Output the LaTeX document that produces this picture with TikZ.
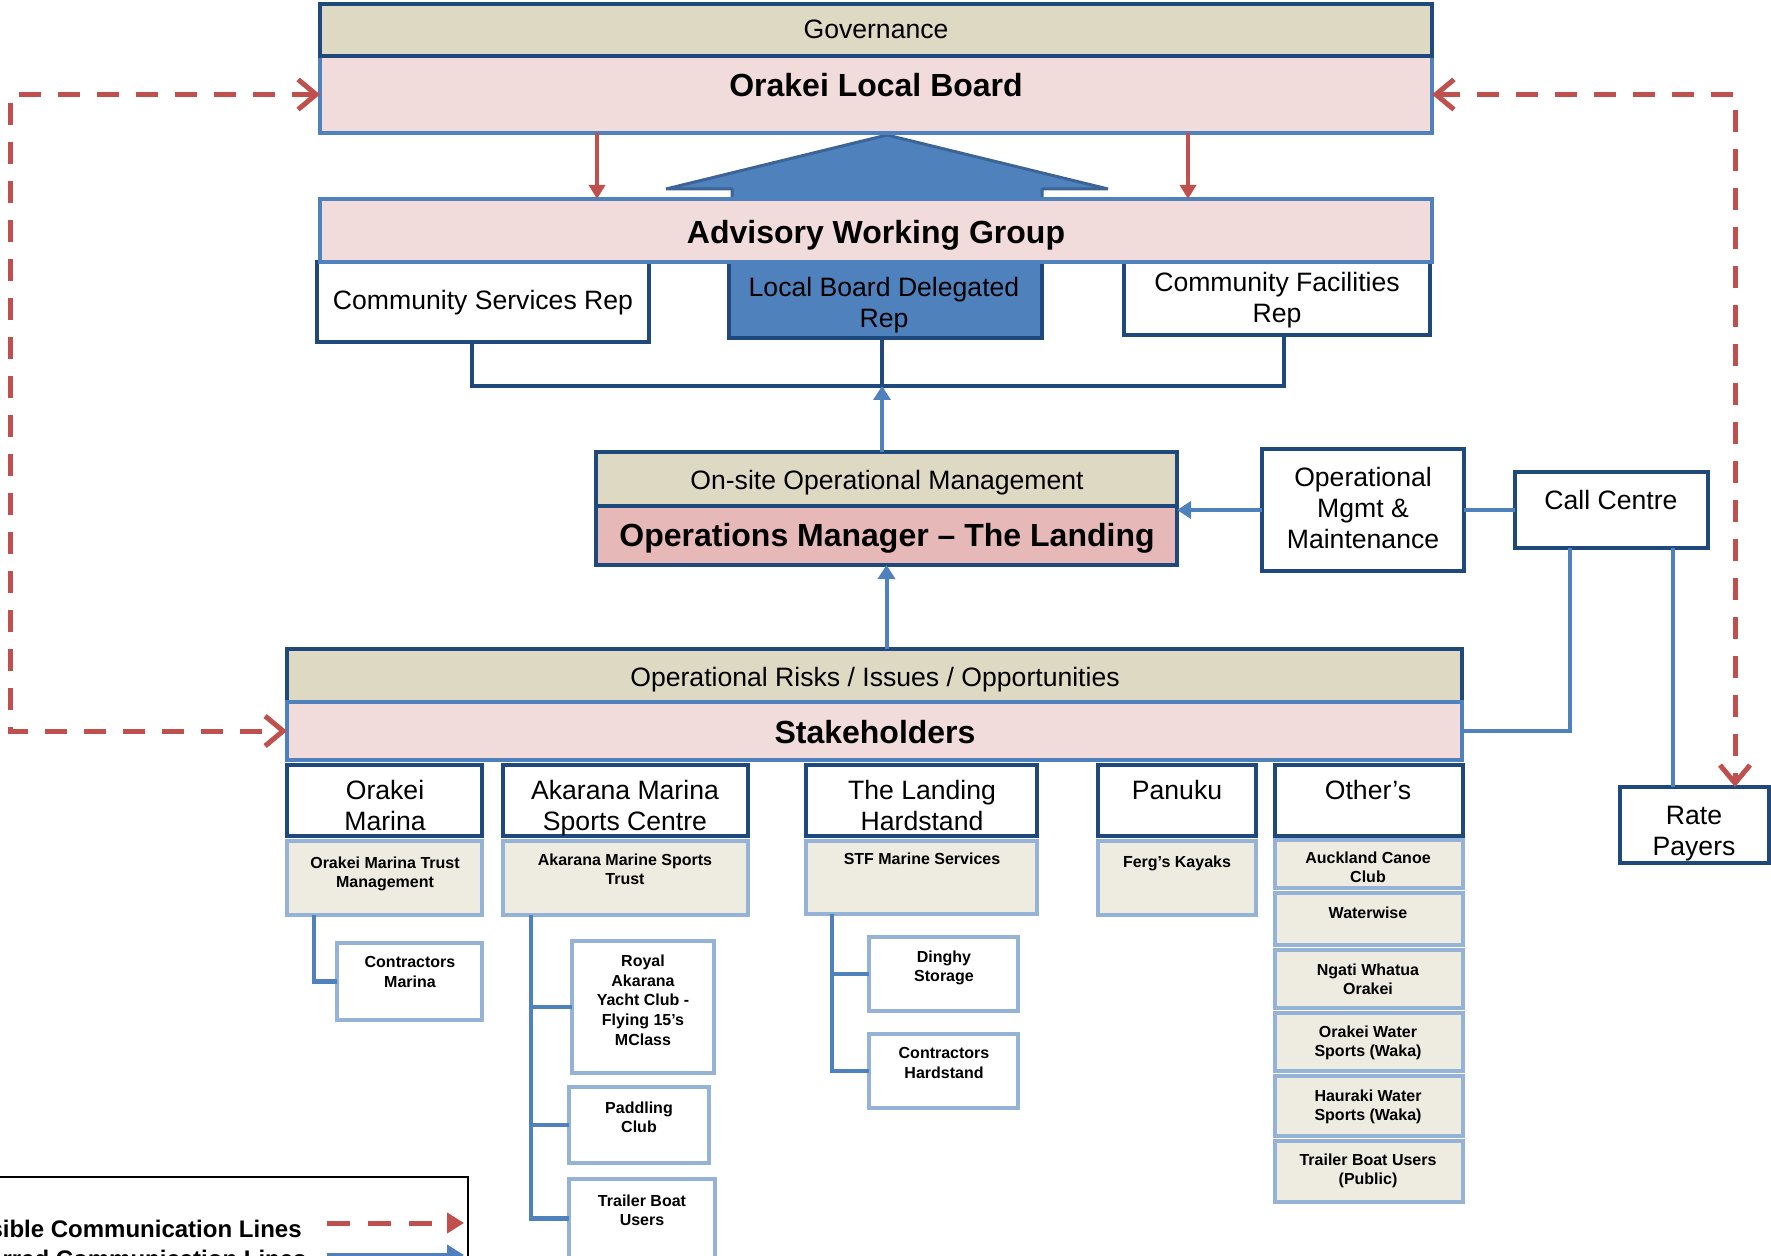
\documentclass[tikz,border=0pt]{standalone}
\usepackage{fontspec}
\setmainfont{Liberation Sans}
\usetikzlibrary{arrows.meta}
\definecolor{cDk}{HTML}{1F497D}
\definecolor{cMd}{HTML}{4F81BD}
\definecolor{cLt}{HTML}{95B3D7}
\definecolor{cTan}{HTML}{DDD9C3}
\definecolor{cPink}{HTML}{F2DCDB}
\definecolor{cDPink}{HTML}{E6B9B8}
\definecolor{cCream}{HTML}{EEECE1}
\definecolor{cRed}{HTML}{C0504D}
\definecolor{cArr}{HTML}{3C6496}
\tikzset{
  box/.style={draw, line width=2.2pt, inner sep=0pt, outer sep=0pt},
  tanbox/.style={box, fill=cTan, draw=cDk},
  pinkbox/.style={box, fill=cPink, draw=cMd},
  opsbox/.style={box, fill=cDPink, draw=cDk},
  whitebox/.style={box, fill=white, draw=cDk},
  delbox/.style={box, fill=cMd, draw=cDk},
  creambox/.style={box, fill=cCream, draw=cLt},
  subbox/.style={box, fill=white, draw=cLt},
  legendbox/.style={draw=black, line width=0.7pt, inner sep=0pt, outer sep=0pt},
  tr/.style={font=\fontsize{13.3}{15.6}\selectfont, align=center, inner sep=0pt, text depth=0pt},
  tb/.style={font=\bfseries\fontsize{16}{19}\selectfont, inner sep=0pt, text depth=0pt},
  ts/.style={font=\bfseries\fontsize{8}{9.8}\selectfont, align=center, inner sep=0pt, text depth=0pt},
  tl/.style={font=\bfseries\fontsize{12}{14}\selectfont, inner sep=0pt, text depth=0pt, anchor=east},
  bigarrow/.style={fill=cMd, draw=cArr, line width=1.5pt, line join=bevel},
  dkline/.style={draw=cDk, line width=2pt},
  blueline/.style={draw=cMd, line width=2.2pt},
  bluearrow/.style={draw=cMd, line width=2pt, -{Triangle[length=7pt,width=8.5pt]}},
  redarrow/.style={draw=cRed, line width=1.7pt, -{Triangle[length=7pt,width=8pt]}},
  reddash/.style={draw=cRed, line width=2.5pt, dash pattern=on 11pt off 8.5pt,
    {Straight Barb[length=9pt,width=15pt]}-{Straight Barb[length=9pt,width=15pt]}},
  legred/.style={draw=cRed, line width=2.5pt, dash pattern=on 11.5pt off 9pt, -{Triangle[length=8.5pt,width=10pt]}},
  legblue/.style={draw=cMd, line width=2.5pt, -{Triangle[length=8.5pt,width=10pt]}},
}
\newcommand\bx[6]{%
  \pgfmathsetmacro\bxw{(#5-#3)*0.5}%
  \pgfmathsetmacro\bxh{(#6-#4)*0.5}%
  \node[#2, minimum width=\bxw pt, minimum height=\bxh pt] (#1) at ({(#3+#5)/2},{(#4+#6)/2}) {};}
\begin{document}
\begin{tikzpicture}[x=0.5pt,y=-0.5pt]
\useasboundingbox (0,0) rectangle (1771,1256);
\clip (0,0) rectangle (1771,1256);
\fill[white] (0,0) rectangle (1771,1256);

% ---------- governance ----------
\draw[bigarrow] (887,135) -- (1108,189) -- (1042,189) -- (1042,270) -- (732,270) -- (732,189) -- (666,189) -- cycle;
\bx{olb}{pinkbox}{320}{56}{1432}{133}
\bx{gov}{tanbox}{320}{4}{1432}{56}
\node[tr] (govt) at (876,29) {Governance};
\node[tb] (olbt) at (876,85) {Orakei Local Board};

\bx{lbd}{delbox}{729}{262}{1042}{338}
\bx{csr}{whitebox}{317}{262}{649}{342}
\bx{cfr}{whitebox}{1124}{262}{1430}{335}
\bx{awg}{pinkbox}{320}{199}{1432}{262}
\node[tb] (awgt) at (876,232) {Advisory Working Group};
\node[tr] (csrt) at (483,300) {Community Services Rep};
\node[tr] (lbdt) at (884,302) {Local Board Delegated\\Rep};
\node[tr] (cfrt) at (1277,297) {Community Facilities\\Rep};

\coordinate (rA) at (597,0);
\coordinate (rB) at (1188,0);
\draw[redarrow] (olb.south -| rA) -- (awg.north -| rA);
\draw[redarrow] (olb.south -| rB) -- (awg.north -| rB);

\coordinate (bL) at (472,386);
\coordinate (bM) at (882,386);
\coordinate (bR) at (1284,386);
\draw[dkline] (csr.south -| bL) -- (bL) -- (bR) -- (cfr.south -| bR);
\draw[dkline] (lbd.south -| bM) -- (bM);

% ---------- operations ----------
\bx{onsite}{tanbox}{596}{452}{1177}{506}
\bx{ops}{opsbox}{596}{506}{1177}{565}
\node[tr] (onsitet) at (887,480) {On-site Operational Management};
\node[tb] (opst) at (887,535) {Operations Manager – The Landing};
\draw[bluearrow] (onsite.north -| bM) -- (bM);

\bx{omm}{whitebox}{1262}{449}{1464}{571}
\node[tr] (ommt) at (1363,508) {Operational\\Mgmt \&\\Maintenance};
\bx{cc}{whitebox}{1515}{472}{1708}{548}
\node[tr] (cct) at (1611,500) {Call Centre};
\bx{rp}{whitebox}{1620}{787}{1769}{863}
\node[tr] (rpt) at (1694,831) {Rate\\Payers};

\draw[bluearrow] (omm.west) -- (omm.west -| ops.east);
\draw[blueline] (omm.east) -- (cc.west);

% ---------- stakeholders ----------
\bx{ori}{tanbox}{287}{649}{1462}{702}
\bx{sh}{pinkbox}{287}{702}{1462}{760}
\node[tr] (orit) at (875,677) {Operational Risks / Issues / Opportunities};
\node[tb] (sht) at (875,732) {Stakeholders};
\draw[bluearrow] (ori.north -| ops.south) -- (ops.south);

\coordinate (c1) at (1570,0);
\coordinate (c2) at (1673,0);
\draw[blueline] (cc.south -| c1) |- (sh.east);
\draw[blueline] (cc.south -| c2) -- (rp.north -| c2);

% red dashed
\coordinate (dR) at (1735,0);
\coordinate (dL) at (10,0);
\draw[reddash] (olb.east) -| (rp.north -| dR);
\draw[reddash] (olb.west) -| (dL |- sh.west) -- (sh.west);

% column 1
\bx{om}{whitebox}{287}{765}{482}{836}
\node[tr] (omtx) at (385,805) {Orakei\\Marina};
\bx{omt}{creambox}{287}{841}{482}{915}
\node[ts] (omtt) at (385,872) {Orakei Marina Trust\\Management};
\bx{cm}{subbox}{337}{943}{482}{1020}
\node[ts] (cmt) at (410,972) {Contractors\\Marina};
\coordinate (k1) at (314,0);
\draw[blueline] (omt.south -| k1) |- (cm.west);

% column 2
\bx{ak}{whitebox}{503}{765}{748}{836}
\node[tr] (akx) at (625,805) {Akarana Marina\\Sports Centre};
\bx{akt}{creambox}{503}{841}{748}{915}
\node[ts] (aktt) at (625,869) {Akarana Marine Sports\\Trust};
\bx{ry}{subbox}{572}{941}{714}{1073}
\node[ts] (ryt) at (643,1000) {Royal\\Akarana\\Yacht Club -\\Flying 15’s\\MClass};
\bx{pc}{subbox}{569}{1087}{709}{1163}
\node[ts] (pct) at (639,1117) {Paddling\\Club};
\bx{tb}{subbox}{569}{1179}{715}{1258}
\node[ts] (tbt) at (642,1210) {Trailer Boat\\Users};
\coordinate (k2) at (531,0);
\draw[blueline] (akt.south -| k2) -- (k2 |- tb.west) -- (tb.west);
\draw[blueline] (k2 |- ry.west) -- (ry.west);
\draw[blueline] (k2 |- pc.west) -- (pc.west);

% column 3
\bx{lh}{whitebox}{806}{765}{1037}{836}
\node[tr] (lhx) at (922,805) {The Landing\\Hardstand};
\bx{stf}{creambox}{806}{841}{1037}{914}
\node[ts] (stft) at (922,859) {STF Marine Services};
\bx{ds}{subbox}{869}{937}{1018}{1011}
\node[ts] (dst) at (944,966) {Dinghy\\Storage};
\bx{ch}{subbox}{869}{1034}{1018}{1108}
\node[ts] (cht) at (944,1063) {Contractors\\Hardstand};
\coordinate (k3) at (832,0);
\draw[blueline] (stf.south -| k3) -- (k3 |- ch.west) -- (ch.west);
\draw[blueline] (k3 |- ds.west) -- (ds.west);

% column 4
\bx{pn}{whitebox}{1098}{765}{1256}{836}
\node[tr] (pnx) at (1177,790) {Panuku};
\bx{fk}{creambox}{1098}{841}{1256}{915}
\node[ts] (fkt) at (1177,862) {Ferg’s Kayaks};

% column 5
\bx{ot}{whitebox}{1275}{765}{1463}{836}
\node[tr] (otx) at (1368,790) {Other’s};
\bx{acc}{creambox}{1275}{840}{1463}{888}
\node[ts] (acct) at (1368,867) {Auckland Canoe\\Club};
\bx{ww}{creambox}{1275}{893}{1463}{945}
\node[ts] (wwt) at (1368,913) {Waterwise};
\bx{ng}{creambox}{1275}{950}{1463}{1008}
\node[ts] (ngt) at (1368,979) {Ngati Whatua\\Orakei};
\bx{ows}{creambox}{1275}{1013}{1463}{1071}
\node[ts] (owst) at (1368,1041) {Orakei Water\\Sports (Waka)};
\bx{hws}{creambox}{1275}{1076}{1463}{1136}
\node[ts] (hwst) at (1368,1105) {Hauraki Water\\Sports (Waka)};
\bx{tbu}{creambox}{1275}{1141}{1463}{1202}
\node[ts] (tbut) at (1368,1169) {Trailer Boat Users\\(Public)};

% legend
\bx{leg}{legendbox}{-10}{1177}{468}{1320}
\node[tl] (leg1) at (302,1229) {sible Communication Lines};
\node[tl] (leg2) at (307,1259) {rred Communication Lines};
\coordinate (l1a) at (327,1223);
\coordinate (l1b) at (464,1223);
\coordinate (l2a) at (327,1255);
\coordinate (l2b) at (464,1255);
\draw[legred] (l1a) -- (l1b);
\draw[legblue] (l2a) -- (l2b);
\end{tikzpicture}
\end{document}
